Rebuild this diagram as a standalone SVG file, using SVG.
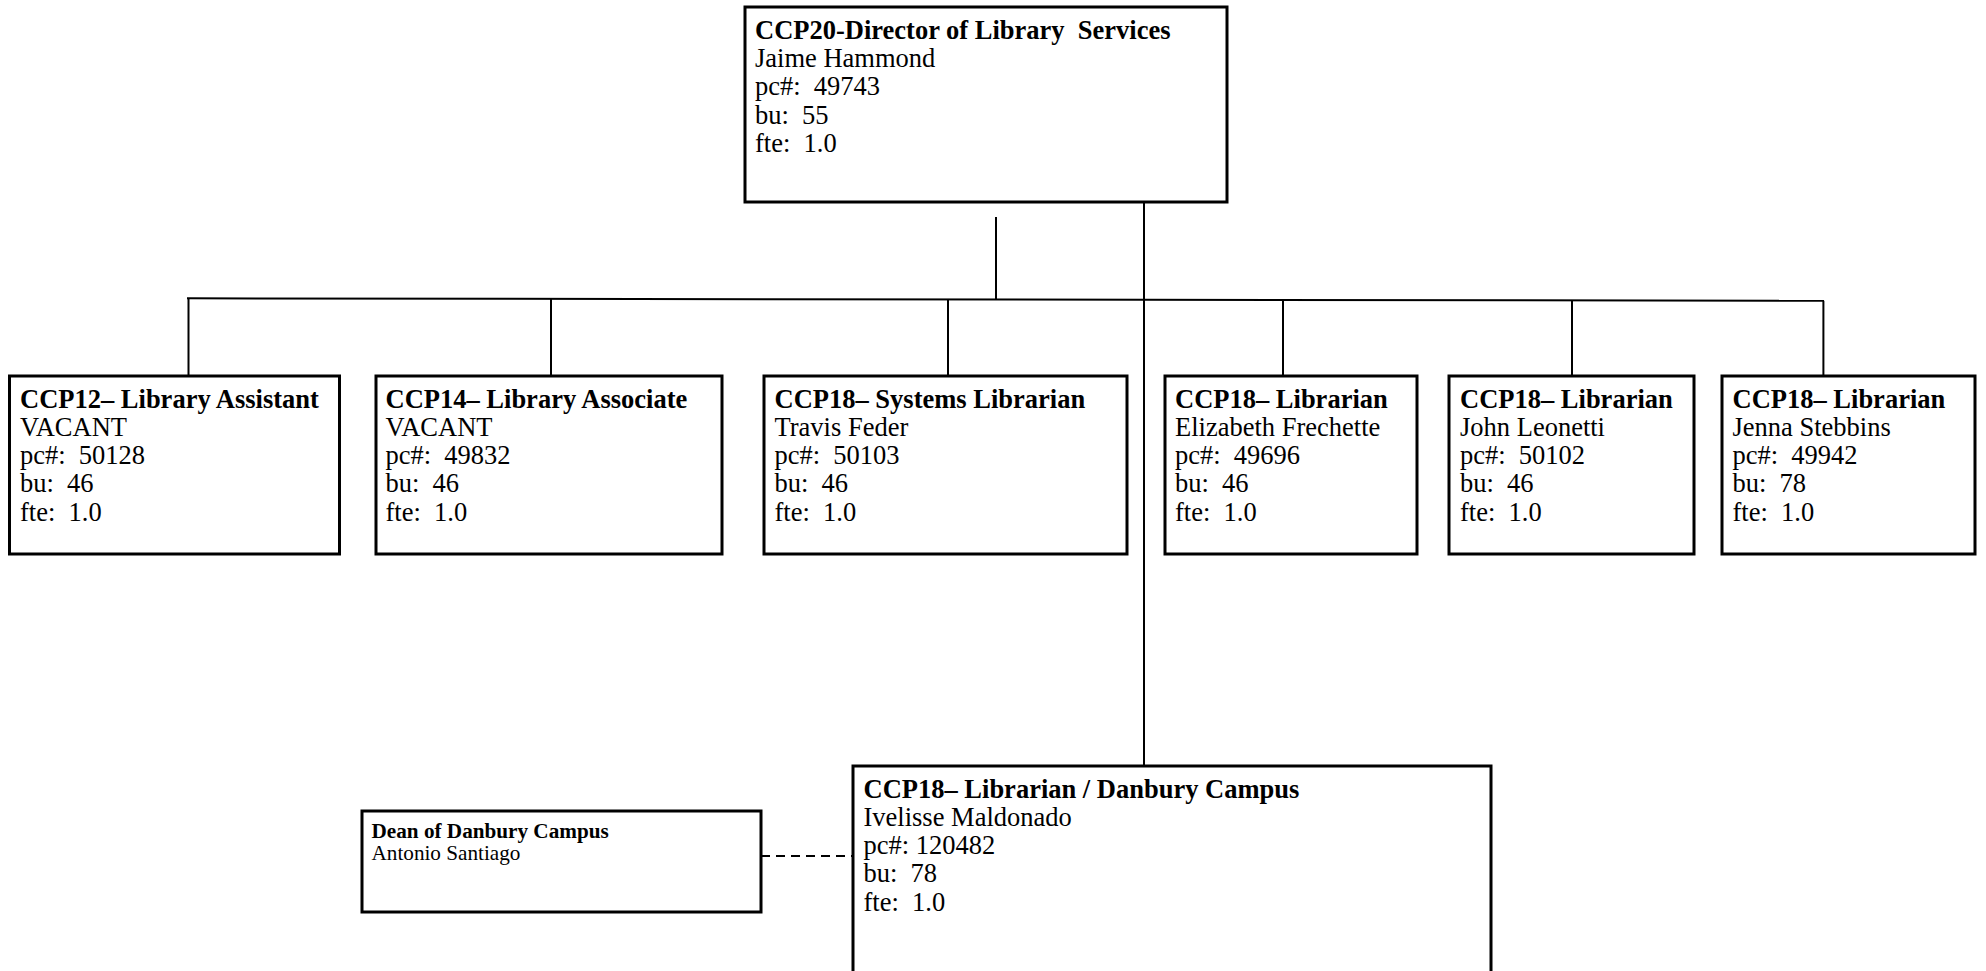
<svg xmlns="http://www.w3.org/2000/svg" width="1986" height="971" viewBox="0 0 1986 971">
<style>
.box{fill:#fff;stroke:#000;stroke-width:3}
.t{font-family:"Liberation Serif","Times New Roman",serif;font-size:26.5px;fill:#000;white-space:pre}
.b{font-weight:bold}
.s{font-family:"Liberation Serif","Times New Roman",serif;font-size:21.2px;fill:#000;white-space:pre}
.c{stroke:#000;stroke-width:2;fill:none}
.d{stroke:#000;stroke-width:2;fill:none;stroke-dasharray:9 6}
</style>
<rect width="1986" height="971" fill="#fff"/>
<g id="connectors">
<line class="c" x1="996" y1="217" x2="996" y2="299.5"/>
<line class="c" x1="187" y1="298.3" x2="1824" y2="300.8"/>
<line class="c" x1="188.5" y1="298.3" x2="188.5" y2="375"/>
<line class="c" x1="551" y1="298.9" x2="551" y2="375"/>
<line class="c" x1="948" y1="299.5" x2="948" y2="375"/>
<line class="c" x1="1283" y1="300" x2="1283" y2="375"/>
<line class="c" x1="1572" y1="300.4" x2="1572" y2="375"/>
<line class="c" x1="1823.4" y1="300.8" x2="1823.4" y2="375"/>
<line class="c" x1="1144" y1="199" x2="1144" y2="766"/>
<line class="d" x1="761" y1="856" x2="853" y2="856"/>
</g>
<g id="director">
<rect class="box" x="745" y="7" width="482" height="195"/>
<text class="t b" x="755" y="38.8">CCP20-Director of Library  Services</text>
<text class="t" x="755" y="67.1">Jaime Hammond</text>
<text class="t" x="755" y="95.4">pc#:  49743</text>
<text class="t" x="755" y="123.7">bu:  55</text>
<text class="t" x="755" y="152">fte:  1.0</text>
</g>
<g id="library-assistant">
<rect class="box" x="9.5" y="376" width="330" height="178"/>
<text class="t b" x="20" y="407.5">CCP12– Library Assistant</text>
<text class="t" x="20" y="435.8">VACANT</text>
<text class="t" x="20" y="464.1">pc#:  50128</text>
<text class="t" x="20" y="492.4">bu:  46</text>
<text class="t" x="20" y="520.7">fte:  1.0</text>
</g>
<g id="library-associate">
<rect class="box" x="376" y="376" width="346" height="178"/>
<text class="t b" x="385.5" y="407.5">CCP14– Library Associate</text>
<text class="t" x="385.5" y="435.8">VACANT</text>
<text class="t" x="385.5" y="464.1">pc#:  49832</text>
<text class="t" x="385.5" y="492.4">bu:  46</text>
<text class="t" x="385.5" y="520.7">fte:  1.0</text>
</g>
<g id="systems-librarian">
<rect class="box" x="764" y="376" width="363" height="178"/>
<text class="t b" x="774.5" y="407.5">CCP18– Systems Librarian</text>
<text class="t" x="774.5" y="435.8">Travis Feder</text>
<text class="t" x="774.5" y="464.1">pc#:  50103</text>
<text class="t" x="774.5" y="492.4">bu:  46</text>
<text class="t" x="774.5" y="520.7">fte:  1.0</text>
</g>
<g id="librarian-frechette">
<rect class="box" x="1165" y="376" width="252" height="178"/>
<text class="t b" x="1175" y="407.5">CCP18– Librarian</text>
<text class="t" x="1175" y="435.8">Elizabeth Frechette</text>
<text class="t" x="1175" y="464.1">pc#:  49696</text>
<text class="t" x="1175" y="492.4">bu:  46</text>
<text class="t" x="1175" y="520.7">fte:  1.0</text>
</g>
<g id="librarian-leonetti">
<rect class="box" x="1449" y="376" width="245" height="178"/>
<text class="t b" x="1460" y="407.5">CCP18– Librarian</text>
<text class="t" x="1460" y="435.8">John Leonetti</text>
<text class="t" x="1460" y="464.1">pc#:  50102</text>
<text class="t" x="1460" y="492.4">bu:  46</text>
<text class="t" x="1460" y="520.7">fte:  1.0</text>
</g>
<g id="librarian-stebbins">
<rect class="box" x="1722" y="376" width="253" height="178"/>
<text class="t b" x="1732.5" y="407.5">CCP18– Librarian</text>
<text class="t" x="1732.5" y="435.8">Jenna Stebbins</text>
<text class="t" x="1732.5" y="464.1">pc#:  49942</text>
<text class="t" x="1732.5" y="492.4">bu:  78</text>
<text class="t" x="1732.5" y="520.7">fte:  1.0</text>
</g>
<g id="librarian-danbury">
<rect class="box" x="853" y="766" width="638" height="260"/>
<text class="t b" x="863.5" y="797.5">CCP18– Librarian / Danbury Campus</text>
<text class="t" x="863.5" y="825.8">Ivelisse Maldonado</text>
<text class="t" x="863.5" y="854.1">pc#: 120482</text>
<text class="t" x="863.5" y="882.4">bu:  78</text>
<text class="t" x="863.5" y="910.7">fte:  1.0</text>
</g>
<g id="dean-danbury">
<rect class="box" x="362" y="811" width="399" height="101"/>
<text class="s b" x="371.5" y="838">Dean of Danbury Campus</text>
<text class="s" x="371.5" y="859.6">Antonio Santiago</text>
</g>
</svg>
